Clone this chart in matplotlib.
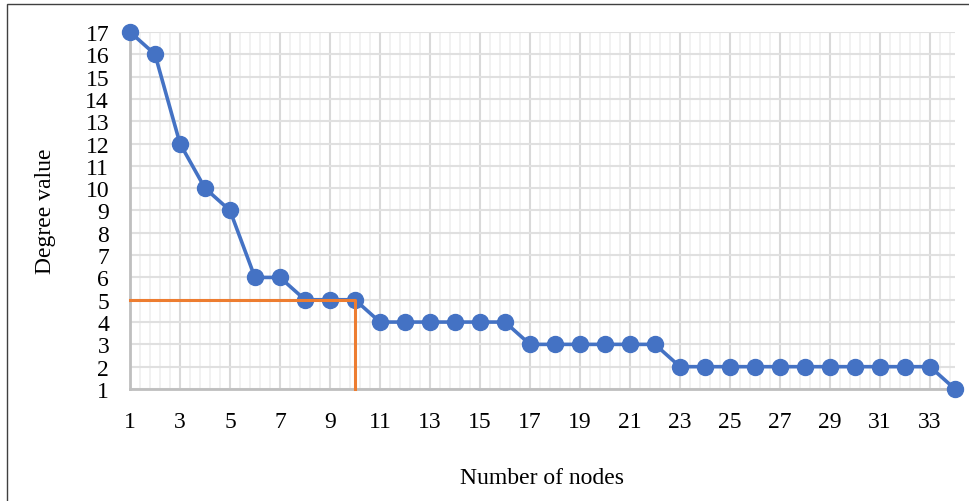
import matplotlib
matplotlib.use("Agg")
import matplotlib.pyplot as plt
from matplotlib.ticker import MultipleLocator
from matplotlib.patches import Rectangle

nodes = list(range(1, 35))
degree = [17, 16, 12, 10, 9, 6, 6, 5, 5, 5,
          4, 4, 4, 4, 4, 4,
          3, 3, 3, 3, 3, 3,
          2, 2, 2, 2, 2, 2, 2, 2, 2, 2, 2,
          1]
cut_x = [1, 10, 10]
cut_y = [5, 5, 1]

plt.rcParams['font.family'] = ['Liberation Serif', 'DejaVu Serif']

fig = plt.figure(figsize=(9.7, 5.02), dpi=100)
ax = fig.add_axes([0.134, 0.2231, 0.8505, 0.7112])

# outer frame of the chart area
fig.patches.append(Rectangle((7 / 970, -0.1), 1.2, (502 - 5) / 502 + 0.1,
                             transform=fig.transFigure, fill=False,
                             edgecolor="#404040", linewidth=1.0))

ax.plot(nodes, degree, color="#4472C4", linewidth=2.6, marker="o",
        markersize=11.5, clip_on=False, zorder=3)
ax.plot(cut_x, cut_y, color="#ED7D31", linewidth=2.2, clip_on=False, zorder=4)

ax.set_xlim(1, 34)
ax.set_ylim(1, 17)
ax.xaxis.set_major_locator(MultipleLocator(2, offset=1))
ax.xaxis.set_minor_locator(MultipleLocator(0.4, offset=1))
ax.yaxis.set_major_locator(MultipleLocator(1))

ax.grid(True, which="major", axis="x", color="#d9d9d9", linewidth=1.5, zorder=0)
ax.grid(True, which="minor", axis="x", color="#f0f0f0", linewidth=1.3, zorder=0)
ax.grid(True, which="major", axis="y", color="#e0e0e0", linewidth=1.5, zorder=0)
ax.set_axisbelow(True)

for side in ["top", "right"]:
    ax.spines[side].set_visible(False)
for side in ["left", "bottom"]:
    ax.spines[side].set_color("#bfbfbf")
    ax.spines[side].set_linewidth(2.0)

ax.tick_params(which="both", length=0)
ax.tick_params(axis="x", labelsize=17, pad=16)
ax.tick_params(axis="y", labelsize=17, pad=15)

ax.set_xlabel("Number of nodes", fontsize=17, labelpad=25)
ax.set_ylabel("Degree value", fontsize=17, labelpad=21)

plt.savefig("out.png", dpi=100)
